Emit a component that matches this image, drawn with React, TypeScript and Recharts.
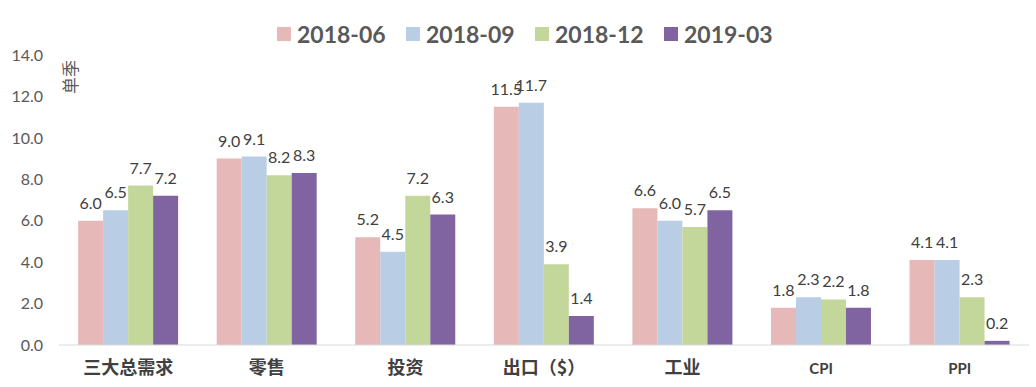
import React from 'react';
import { BarChart, Bar, XAxis, YAxis, LabelList, Customized } from 'recharts';

const categories = ['三大总需求', '零售', '投资', '出口（$）', '工业', 'CPI', 'PPI'];
const s201806 = [6.0, 9.0, 5.2, 11.5, 6.6, 1.8, 4.1];
const s201809 = [6.5, 9.1, 4.5, 11.7, 6.0, 2.3, 4.1];
const s201812 = [7.7, 8.2, 7.2, 3.9, 5.7, 2.2, 2.3];
const s201903 = [7.2, 8.3, 6.3, 1.4, 6.5, 1.8, 0.2];
const yTicks = [0, 2, 4, 6, 8, 10, 12, 14];

const seriesDefs = [
  { key: '2018-06', values: s201806, color: '#E6B9B8' },
  { key: '2018-09', values: s201809, color: '#B9CDE5' },
  { key: '2018-12', values: s201812, color: '#C4D79B' },
  { key: '2019-03', values: s201903, color: '#8064A2' },
];

const data = categories.map((c, i) => {
  const row: any = { name: c };
  seriesDefs.forEach((s) => (row[s.key] = s.values[i]));
  return row;
});

const font = 'Lato, "Noto Sans", sans-serif';

const LegendBox = () => (
  <div
    style={{
      position: 'absolute',
      left: 277,
      top: 20,
      display: 'flex',
      alignItems: 'center',
      height: 28,
    }}
  >
    {seriesDefs.map((s) => (
      <div key={s.key} style={{ display: 'flex', alignItems: 'center', width: 129 }}>
        <span style={{ width: 14, height: 14, background: s.color, display: 'inline-block', marginRight: 6 }} />
        <span style={{ fontFamily: font, fontWeight: 700, fontSize: 23, color: '#595959', lineHeight: '28px' }}>{s.key}</span>
      </div>
    ))}
  </div>
);

const XTick = (props: any) => {
  const { x, y, payload } = props;
  const isLatin = /^[A-Z]+$/.test(payload.value);
  return (
    <text
      x={x}
      y={y + 21}
      textAnchor="middle"
      fill="#404040"
      fontWeight={700}
      fontSize={isLatin ? 15 : 18}
      fontFamily={isLatin ? font : '"Noto Sans CJK SC", sans-serif'}
    >
      {payload.value}
    </text>
  );
};

const YLabel = () => (
  <text
    x={0}
    y={0}
    transform="translate(77, 77) rotate(-90)"
    textAnchor="middle"
    fontSize={17}
    fill="#595959"
    fontFamily='"Noto Sans CJK SC", sans-serif'
  >
    单季
  </text>
);

export default function App() {
  return (
    <div style={{ position: 'absolute', left: 0, top: 0, width: 1036, height: 387, background: '#fff' }}>
      <BarChart
        width={1036}
        height={387}
        data={data}
        margin={{ top: 55, right: 7, left: 0, bottom: 0 }}
        barCategoryGap="13.8%"
        barGap={0}
      >
        <XAxis
          dataKey="name"
          height={42}
          tickLine={false}
          axisLine={{ stroke: '#D9D9D9' }}
          tick={<XTick />}
          interval={0}
        />
        <YAxis
          width={59}
          domain={[0, 14]}
          ticks={yTicks}
          axisLine={false}
          tickLine={false}
          tickMargin={10}
          tickFormatter={(v: number) => v.toFixed(1)}
          tick={{ fill: '#595959', fontSize: 16, fontFamily: font }}
        />
        {seriesDefs.map((s) => (
          <Bar key={s.key} dataKey={s.key} fill={s.color} isAnimationActive={false}>
            <LabelList
              dataKey={s.key}
              position="top"
              offset={12}
              formatter={(v: number) => v.toFixed(1)}
              style={{ fill: '#404040', fontSize: 16, fontFamily: font }}
            />
          </Bar>
        ))}
        <Customized component={YLabel} />
      </BarChart>
      <LegendBox />
    </div>
  );
}
